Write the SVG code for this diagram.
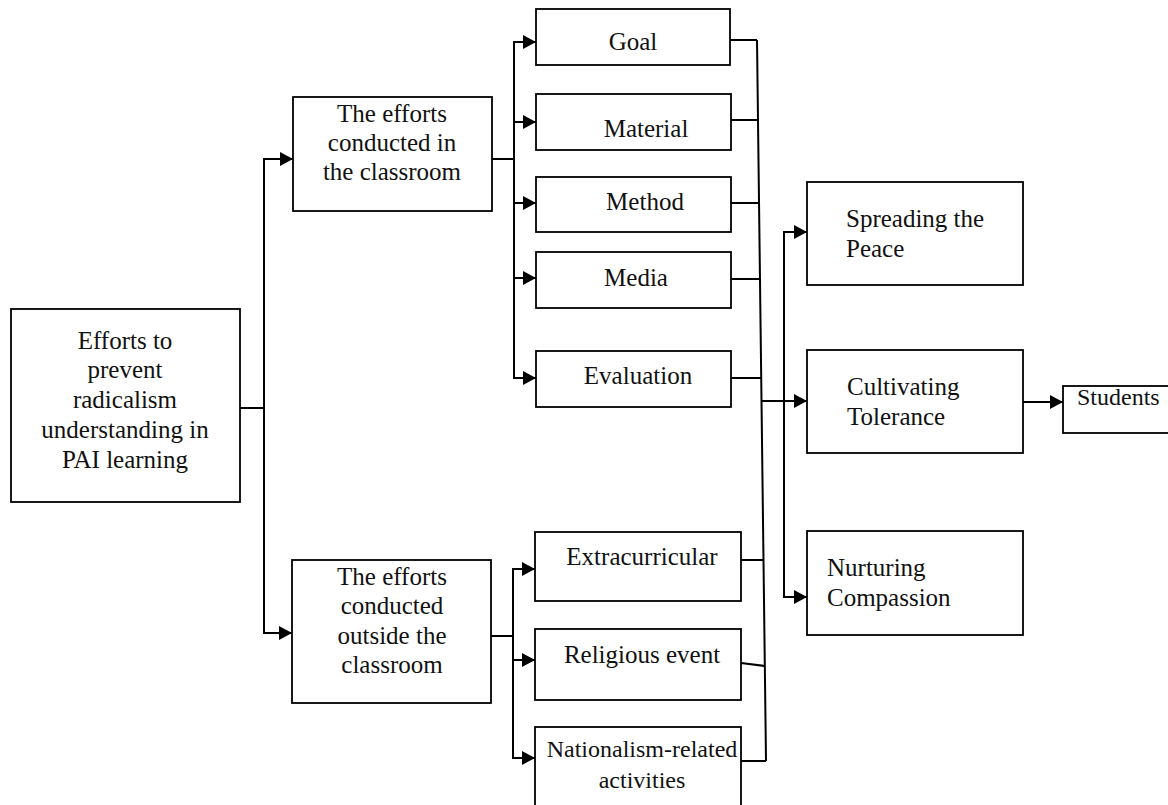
<svg xmlns="http://www.w3.org/2000/svg" width="1168" height="805" viewBox="0 0 1168 805">
<defs>
<marker id="arr" markerUnits="userSpaceOnUse" markerWidth="13" markerHeight="14" refX="13" refY="7" orient="auto">
<path d="M0,0 L13,7 L0,14 Z" fill="#000"/>
</marker>
<style>
.box{fill:#fff;stroke:#000;stroke-width:1.8}
.t{font-family:"Liberation Serif","Times New Roman",serif;font-size:25px;fill:#111}
.c{text-anchor:middle}
.ln{fill:none;stroke:#000;stroke-width:2}
.a{marker-end:url(#arr)}
</style>
</defs>
<rect width="1168" height="805" fill="#fff"/>
<g id="connectors">
<path class="ln" d="M240,408 H264"/>
<path class="ln a" d="M264,408 V159 H293"/>
<path class="ln a" d="M264,408 V633 H292"/>
<path class="ln" d="M492,159 H514"/>
<path class="ln a" d="M514,159 V42 H536"/>
<path class="ln a" d="M514,159 V378 H536"/>
<path class="ln a" d="M514,122 H536"/>
<path class="ln a" d="M514,203 H536"/>
<path class="ln a" d="M514,278 H536"/>
<path class="ln" d="M491,636 H513"/>
<path class="ln a" d="M513,636 V569 H535"/>
<path class="ln a" d="M513,636 V758 H535"/>
<path class="ln a" d="M513,660 H535"/>
<path class="ln" d="M757,40 L766,761"/>
<path class="ln" d="M730,40 H757"/>
<path class="ln" d="M731,120 H758"/>
<path class="ln" d="M731,203 H759"/>
<path class="ln" d="M731,279 H760"/>
<path class="ln" d="M731,378 H761"/>
<path class="ln" d="M741,560 H763.5"/>
<path class="ln" d="M741,663 L765,666"/>
<path class="ln" d="M741,761 H766"/>
<path class="ln a" d="M761.5,401 H807"/>
<path class="ln a" d="M784,401 V232 H807"/>
<path class="ln a" d="M784,401 V597 H807"/>
<path class="ln a" d="M1023,402 H1063"/>
</g>
<g id="n-root">
<rect class="box" x="11" y="309" width="229" height="193"/>
<text class="t c" x="125" y="349">Efforts to</text>
<text class="t c" x="125" y="378">prevent</text>
<text class="t c" x="125" y="408">radicalism</text>
<text class="t c" x="125" y="438">understanding in</text>
<text class="t c" x="125" y="468">PAI learning</text>
</g>
<g id="n-inside">
<rect class="box" x="293" y="97" width="199" height="114"/>
<text class="t c" x="392" y="122">The efforts</text>
<text class="t c" x="392" y="151">conducted in</text>
<text class="t c" x="392" y="180">the classroom</text>
</g>
<g id="n-outside">
<rect class="box" x="292" y="560" width="199" height="143"/>
<text class="t c" x="392" y="585">The efforts</text>
<text class="t c" x="392" y="614">conducted</text>
<text class="t c" x="392" y="644">outside the</text>
<text class="t c" x="392" y="673">classroom</text>
</g>
<g id="n-goal">
<rect class="box" x="536" y="9" width="194" height="56"/>
<text class="t c" x="633" y="50">Goal</text>
</g>
<g id="n-material">
<rect class="box" x="536" y="94" width="195" height="56"/>
<text class="t c" x="646" y="137">Material</text>
</g>
<g id="n-method">
<rect class="box" x="536" y="177" width="195" height="55"/>
<text class="t c" x="645" y="210">Method</text>
</g>
<g id="n-media">
<rect class="box" x="536" y="252" width="195" height="56"/>
<text class="t c" x="636" y="286">Media</text>
</g>
<g id="n-evaluation">
<rect class="box" x="536" y="351" width="195" height="56"/>
<text class="t c" x="638" y="384">Evaluation</text>
</g>
<g id="n-extracurricular">
<rect class="box" x="535" y="532" width="206" height="69"/>
<text class="t c" x="642" y="565">Extracurricular</text>
</g>
<g id="n-religious">
<rect class="box" x="535" y="629" width="206" height="71"/>
<text class="t c" x="642" y="663">Religious event</text>
</g>
<g id="n-nationalism">
<rect class="box" x="535" y="727" width="206" height="90"/>
<text class="t c" x="642" y="757" style="font-size:24px">Nationalism-related</text>
<text class="t c" x="642" y="788" style="font-size:24px">activities</text>
</g>
<g id="n-peace">
<rect class="box" x="807" y="182" width="216" height="103"/>
<text class="t" x="846" y="227">Spreading the</text>
<text class="t" x="846" y="257">Peace</text>
</g>
<g id="n-tolerance">
<rect class="box" x="807" y="350" width="216" height="103"/>
<text class="t" x="847" y="395">Cultivating</text>
<text class="t" x="847" y="425">Tolerance</text>
</g>
<g id="n-compassion">
<rect class="box" x="807" y="531" width="216" height="104"/>
<text class="t" x="827" y="576">Nurturing</text>
<text class="t" x="827" y="606">Compassion</text>
</g>
<g id="n-students">
<rect class="box" x="1063" y="386" width="120" height="47"/>
<text class="t" x="1077" y="405" style="font-size:24px">Students</text>
</g>
</svg>
